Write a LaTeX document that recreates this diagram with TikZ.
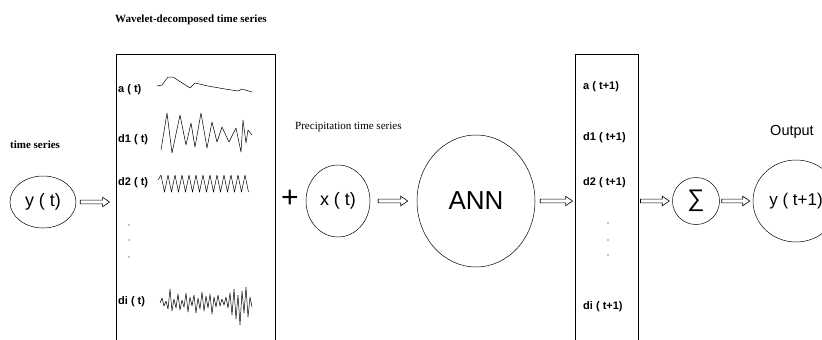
\documentclass[tikz,border=0pt]{standalone}
\usepackage{fontspec}
\setmainfont{Liberation Serif}
\newfontfamily\arial{Liberation Sans}
\usetikzlibrary{calc,shapes.geometric}

\tikzset{
  flecha/.style 2 args={draw, line width=0.6pt, line join=miter, to path={
    let \p1=($(\tikztostart)+(#1,0)$), \p2=($(\tikztotarget)-(#2,0)$) in
    (\x1,\y1+1.9pt) -- (\x2-7pt,\y1+1.9pt) -- (\x2-7pt,\y1+4.8pt) -- (\x2,\y1)
    -- (\x2-7pt,\y1-4.8pt) -- (\x2-7pt,\y1-1.9pt) -- (\x1,\y1-1.9pt) -- cycle}},
  burbuja/.style={draw, ellipse, line width=0.5pt, inner sep=0pt, font=\arial\fontsize{18}{20}\selectfont},
  caja/.style={draw, line width=0.9pt, minimum height=292pt, inner sep=0pt},
  etq/.style={anchor=west, inner sep=0pt, font=\arial\bfseries\fontsize{11}{13}\selectfont},
  onda/.style={line width=0.5pt, line join=round},
  titulo/.style={anchor=west, inner sep=0pt, font=\bfseries\fontsize{11}{13}\selectfont}
}

\begin{document}
\begin{tikzpicture}[x=1pt, y=-1pt]
    \useasboundingbox (0,0) rectangle (822,340);
    \clip (0,0) rectangle (822,340);

    % Titulos
    \node[titulo] (tit1) at (115,20) {Wavelet-decomposed time series};
    \node[titulo] (tit2) at (10,145) {time series};
    \node[anchor=west, inner sep=0pt, font=\fontsize{11}{13}\selectfont] (tit3) at (295,127) {Precipitation time series};
    \node[inner sep=0pt, font=\arial\fontsize{14.5}{16}\selectfont] (tit4) at (792,132) {Output};

    % Circulos
    \node[burbuja, minimum width=66pt, minimum height=52pt] (yt) at (43,202) {y ( t)};
    \node[burbuja, minimum width=64pt, minimum height=72pt] (xt) at (338,201) {x ( t)};
    \node[burbuja, minimum width=118pt, minimum height=132pt, font=\arial\fontsize{26}{28}\selectfont] (ann) at (476,201) {ANN};
    \node[burbuja, minimum width=47pt, minimum height=47pt, font=\arial\fontsize{24}{26}\selectfont] (suma) at (696,201) {∑};
    \node[burbuja, minimum width=86pt, minimum height=82pt, font=\arial\fontsize{17}{19}\selectfont] (yt1) at (796,201) {y ( t+1)};

    % Cajas
    \node[caja, minimum width=159pt] (wave) at (195.5,200) {};
    \node[caja, minimum width=63pt] (pred) at (606.5,200) {};

    % Signo mas
    \node[inner sep=0pt, font=\arial\fontsize{30}{32}\selectfont] (mas) at (290,199) {+};

    % Etiquetas de las cajas
    \foreach \y/\etiqueta in {90/a ( t), 140/d1 ( t), 183/d2 ( t), 302/di ( t)} {
        \node[etq] at (118,\y) {\etiqueta};
    }
    \foreach \y/\etiqueta in {87/a ( t+1), 138/d1 ( t+1), 183/d2 ( t+1), 307/di ( t+1)} {
        \node[etq] at (583,\y) {\etiqueta};
    }

    % Puntos suspensivos
    \foreach \y in {225,240,257} \fill (129,\y) circle (0.7pt);
    \foreach \y in {223,240,255} \fill (608,\y) circle (0.7pt);

    % Ondas
    \draw[onda] (157,86) -- (162,85) -- (168,77) -- (173,77) -- (190,88) -- (195,83)
        -- (208,86) -- (225,89) -- (238,91) -- (242,89) -- (252,92);
    \draw[onda] (161,150) -- (167,113) -- (172,153) -- (180,115) -- (186,145) -- (191,123)
        -- (195,147) -- (201,113) -- (207,148) -- (212,122) -- (217,142) -- (222,127)
        -- (229,142) -- (236,128) -- (241,152) -- (243,120) -- (246,143) -- (248,130) -- (252,135);
    \draw[onda] (158,180) \foreach \i in {0,...,12} { -- ({161+7*\i},175) -- ({164.5+7*\i},192) };
    \draw[onda] (160,303) \foreach \dy [count=\i] in {-5,3,-2,6,-14,8,-4,5,-9,7,-3,4,-10,9,-6,3,-8,10,-5,6,-11,8,-7,5,-9,11,-6,4,-8,3,-4,2,-6,5,-10,12,-14,16,-8,22,-12,10,-16,14,-6,4}
        { -- ({160+2*\i},{303+\dy}) };

    % Flechas
    \path[flecha={4pt}{6pt}] (yt.east) to (yt.east -| wave.west);
    \path[flecha={8pt}{9pt}] (xt.east) to (ann.west);
    \path[flecha={5pt}{2pt}] (ann.east) to (ann.east -| pred.west);
    \path[flecha={2pt}{3pt}] (pred.east |- suma.west) to (suma.west);
    \path[flecha={2pt}{3pt}] (suma.east) to (yt1.west);
\end{tikzpicture}
\end{document}
